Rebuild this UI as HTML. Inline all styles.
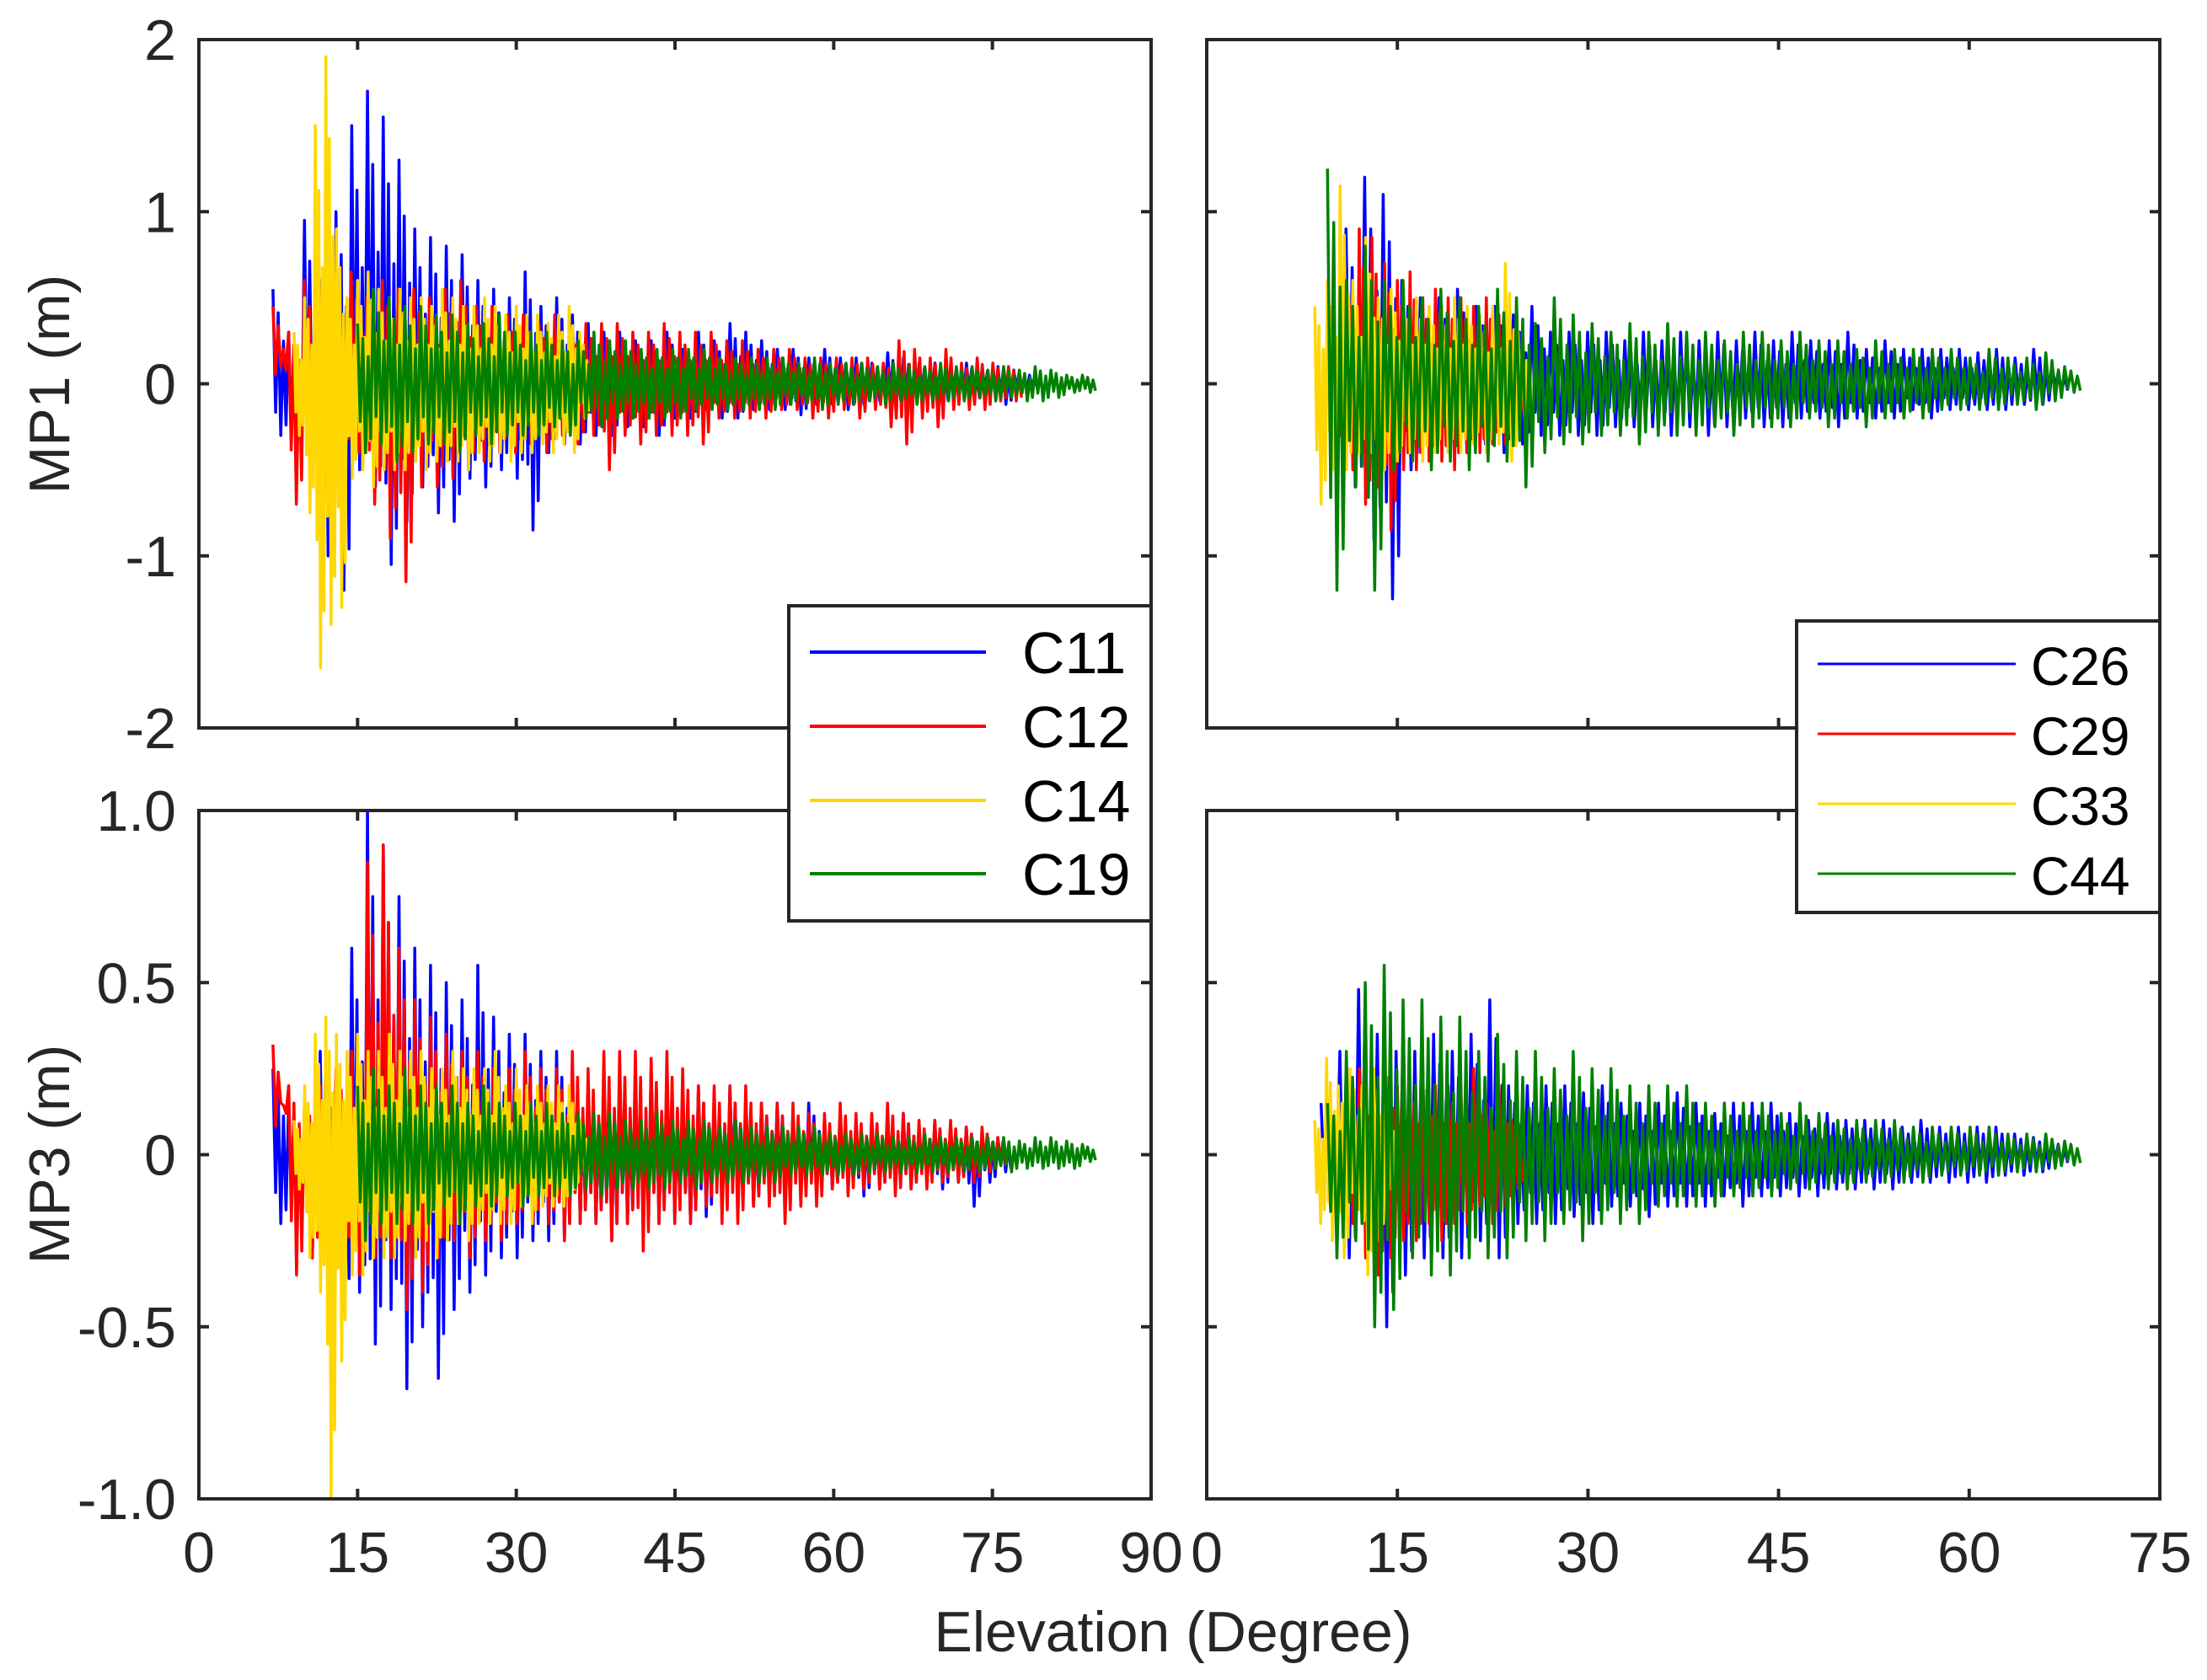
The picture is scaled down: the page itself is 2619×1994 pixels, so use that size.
<!DOCTYPE html>
<html><head><meta charset="utf-8">
<style>
html,body{margin:0;padding:0;background:#fff;}
svg{display:block;font-family:"Liberation Sans",Arial,sans-serif;}
</style></head>
<body>
<svg id="fig" width="2619" height="1994" viewBox="0 0 2619 1994" xmlns="http://www.w3.org/2000/svg">
<rect width="2619" height="1994" fill="#fff"/>
<g id="layer"></g>
</svg>
<script>
// ---------- data (elevation ranges + envelope highs/lows per bin) ----------
const seriesNamesLeft = ["C11","C12","C14","C19"];
const seriesNamesRight = ["C26","C29","C33","C44"];
const seriesColors = ["#0000ff","#ff0000","#ffd700","#008000"];
const xTicksLeft = [0,15,30,45,60,75,90];
const xTickLabelsLeft = ["0","15","30","45","60","75","90"];
const xTicksRight = [0,15,30,45,60,75];
const xTickLabelsRight = ["0","15","30","45","60","75"];
const yTicksMP1 = [-2,-1,0,1,2];
const yTickLabelsMP1 = ["-2","-1","0","1","2"];
const yTicksMP3 = [-1,-0.5,0,0.5,1];
const yTickLabelsMP3 = ["-1.0","-0.5","0","0.5","1.0"];

// MP1 left
const mp1L_C11_range = [7,80];
const mp1L_C11_hi = [0.55,0.3,0.95,0.6,1.0,1.5,1.7,1.55,1.3,0.9,0.85,0.8,0.75,0.6,0.55,0.5,0.65,0.45,0.5,0.4,0.35,0.3,0.3,0.25,0.25,0.3,0.2,0.3,0.25,0.35,0.3,0.25,0.2,0.2,0.15,0.2,0.15,0.15,0.12,0.18,0.15,0.12,0.12,0.1,0.12,0.1,0.1,0.08,0.05];
const mp1L_C11_lo = [-0.3,-0.5,-0.4,-1.0,-1.2,-0.5,-0.6,-1.05,-0.8,-0.6,-0.75,-0.8,-0.55,-0.6,-0.5,-0.55,-0.85,-0.4,-0.35,-0.35,-0.3,-0.3,-0.25,-0.25,-0.3,-0.2,-0.2,-0.15,-0.2,-0.2,-0.15,-0.15,-0.15,-0.18,-0.12,-0.12,-0.15,-0.12,-0.1,-0.12,-0.1,-0.1,-0.12,-0.08,-0.1,-0.08,-0.12,-0.05,-0.03];
const mp1L_C12_range = [7,78];
const mp1L_C12_hi = [0.45,0.3,0.6,0.4,0.3,0.65,0.5,0.6,0.55,0.55,0.5,0.55,0.6,0.45,0.45,0.4,0.4,0.35,0.4,0.3,0.35,0.35,0.35,0.3,0.3,0.35,0.3,0.3,0.3,0.25,0.25,0.2,0.2,0.2,0.15,0.15,0.15,0.15,0.15,0.12,0.25,0.2,0.15,0.2,0.12,0.15,0.12,0.1];
const mp1L_C12_lo = [0.1,-0.7,-0.45,-0.3,-0.4,-0.4,-0.7,-0.9,-1.15,-0.6,-0.6,-0.55,-0.5,-0.45,-0.4,-0.4,-0.35,-0.4,-0.3,-0.35,-0.3,-0.5,-0.3,-0.35,-0.3,-0.3,-0.3,-0.35,-0.2,-0.2,-0.2,-0.2,-0.15,-0.15,-0.2,-0.2,-0.15,-0.2,-0.15,-0.25,-0.35,-0.2,-0.25,-0.15,-0.15,-0.15,-0.1,-0.1];
const mp1L_C14_range = [9,37];
const mp1L_C14_hi = [0.3,0.5,1.5,1.9,0.9,0.5,0.6,0.65,0.55,0.5,0.55,0.5,0.5,0.45,0.55,0.5,0.45,0.45,0.5,0.45,0.4,0.45,0.4,0.4,0.35,0.4,0.45,0.3];
const mp1L_C14_lo = [-0.3,-0.75,-1.65,-1.4,-1.3,-0.55,-0.5,-0.6,-0.5,-0.5,-0.5,-0.45,-0.5,-0.45,-0.45,-0.45,-0.5,-0.4,-0.45,-0.4,-0.45,-0.4,-0.4,-0.35,-0.4,-0.35,-0.4,-0.2];
const mp1L_C19_range = [15,85];
const mp1L_C19_hi = [0.35,0.55,0.5,0.45,0.45,0.4,0.4,0.35,0.35,0.4,0.3,0.3,0.3,0.25,0.25,0.3,0.25,0.25,0.2,0.2,0.2,0.2,0.2,0.15,0.15,0.15,0.15,0.15,0.12,0.15,0.12,0.12,0.12,0.1,0.12,0.1,0.1,0.12,0.1,0.1,0.08,0.1,0.08,0.1,0.08,0.05,0.05];
const mp1L_C19_lo = [-0.4,-0.35,-0.45,-0.4,-0.35,-0.35,-0.4,-0.3,-0.35,-0.3,-0.3,-0.3,-0.25,-0.3,-0.2,-0.25,-0.2,-0.2,-0.2,-0.2,-0.2,-0.15,-0.15,-0.15,-0.15,-0.15,-0.15,-0.12,-0.12,-0.15,-0.12,-0.12,-0.1,-0.12,-0.1,-0.12,-0.1,-0.1,-0.1,-0.08,-0.1,-0.08,-0.1,-0.1,-0.08,-0.05,-0.05];

// MP3 left
const mp3L_C11_range = [7,77];
const mp3L_C11_hi = [0.25,0.15,0.1,0.3,0.15,0.6,1.0,0.9,0.75,0.6,0.55,0.5,0.45,0.55,0.4,0.35,0.35,0.3,0.3,0.25,0.2,0.2,0.2,0.2,0.25,0.2,0.15,0.2,0.15,0.2,0.15,0.15,0.15,0.12,0.15,0.1,0.12,0.1,0.1,0.1,0.12,0.08,0.1,0.08,0.08,0.06,0.05];
const mp3L_C11_lo = [-0.2,-0.2,-0.3,-0.35,-0.45,-0.4,-0.55,-0.45,-0.68,-0.5,-0.65,-0.45,-0.4,-0.35,-0.3,-0.3,-0.25,-0.25,-0.25,-0.2,-0.2,-0.25,-0.2,-0.2,-0.2,-0.18,-0.2,-0.18,-0.15,-0.15,-0.15,-0.12,-0.12,-0.12,-0.12,-0.1,-0.1,-0.12,-0.1,-0.1,-0.1,-0.08,-0.1,-0.08,-0.15,-0.08,-0.05];
const mp3L_C12_range = [7,77];
const mp3L_C12_hi = [0.32,0.2,0.15,0.2,0.25,0.3,0.85,0.9,0.6,0.45,0.4,0.35,0.3,0.3,0.25,0.25,0.3,0.25,0.25,0.3,0.25,0.3,0.3,0.3,0.28,0.3,0.25,0.2,0.2,0.2,0.2,0.15,0.15,0.15,0.12,0.12,0.15,0.12,0.12,0.15,0.12,0.1,0.1,0.1,0.08,0.08,0.05];
const mp3L_C12_lo = [0.15,-0.35,-0.3,-0.2,-0.3,-0.35,-0.3,-0.3,-0.45,-0.4,-0.3,-0.25,-0.3,-0.25,-0.25,-0.2,-0.2,-0.2,-0.25,-0.2,-0.2,-0.25,-0.2,-0.28,-0.2,-0.2,-0.2,-0.15,-0.2,-0.2,-0.15,-0.15,-0.2,-0.15,-0.15,-0.1,-0.12,-0.1,-0.1,-0.12,-0.1,-0.1,-0.08,-0.08,-0.08,-0.05,-0.03];
const mp3L_C14_range = [9,37];
const mp3L_C14_hi = [0.1,0.2,0.35,0.4,0.35,0.3,0.35,0.3,0.3,0.35,0.3,0.3,0.3,0.25,0.25,0.3,0.25,0.25,0.25,0.3,0.2,0.25,0.2,0.2,0.2,0.2,0.2,0.1];
const mp3L_C14_lo = [-0.1,-0.3,-0.4,-1.0,-0.6,-0.35,-0.35,-0.3,-0.3,-0.3,-0.25,-0.3,-0.25,-0.3,-0.25,-0.2,-0.25,-0.2,-0.2,-0.2,-0.2,-0.15,-0.2,-0.15,-0.15,-0.15,-0.1,-0.05];
const mp3L_C19_range = [15,85];
const mp3L_C19_hi = [0.2,0.25,0.2,0.25,0.2,0.2,0.2,0.15,0.2,0.15,0.15,0.15,0.15,0.12,0.12,0.12,0.12,0.1,0.1,0.12,0.1,0.1,0.1,0.08,0.1,0.08,0.08,0.08,0.08,0.08,0.06,0.06,0.06,0.06,0.05,0.05,0.06,0.05,0.05,0.05,0.05,0.05,0.04,0.05,0.05,0.04,0.03];
const mp3L_C19_lo = [-0.25,-0.2,-0.2,-0.2,-0.2,-0.15,-0.2,-0.15,-0.15,-0.12,-0.15,-0.12,-0.12,-0.12,-0.1,-0.12,-0.1,-0.1,-0.1,-0.1,-0.08,-0.1,-0.08,-0.08,-0.08,-0.08,-0.08,-0.06,-0.06,-0.06,-0.06,-0.06,-0.05,-0.05,-0.05,-0.05,-0.05,-0.05,-0.05,-0.05,-0.04,-0.05,-0.04,-0.04,-0.04,-0.04,-0.02];

// MP1 right
const mp1R_C26_range = [9.5,68];
const mp1R_C26_hi = [0.3,0.9,1.2,1.1,0.6,0.5,0.5,0.55,0.45,0.45,0.4,0.45,0.3,0.3,0.3,0.3,0.25,0.3,0.25,0.3,0.25,0.3,0.25,0.3,0.25,0.3,0.25,0.25,0.3,0.2,0.25,0.2,0.2,0.2,0.2,0.18,0.2,0.15,0.2,0.1];
const mp1R_C26_lo = [-0.4,-0.6,-0.9,-1.25,-0.5,-0.45,-0.4,-0.4,-0.35,-0.4,-0.35,-0.3,-0.3,-0.3,-0.3,-0.25,-0.25,-0.25,-0.3,-0.25,-0.3,-0.25,-0.2,-0.25,-0.25,-0.2,-0.2,-0.25,-0.2,-0.2,-0.2,-0.15,-0.2,-0.15,-0.15,-0.15,-0.15,-0.12,-0.12,-0.05];
const mp1R_C29_range = [10,25];
const mp1R_C29_hi = [0.3,0.6,0.9,0.85,0.7,0.6,0.65,0.5,0.55,0.5,0.5,0.45,0.5,0.4,0.3];
const mp1R_C29_lo = [-0.3,-0.5,-0.7,-0.6,-0.85,-0.5,-0.5,-0.45,-0.45,-0.5,-0.4,-0.4,-0.35,-0.35,-0.2];
const mp1R_C33_range = [8.5,25.5];
const mp1R_C33_hi = [0.45,0.6,1.15,0.6,0.85,0.5,0.55,0.5,0.5,0.45,0.45,0.5,0.45,0.4,0.45,0.7,0.3];
const mp1R_C33_lo = [-0.7,-0.5,-0.5,-0.4,-0.4,-0.5,-0.45,-0.4,-0.45,-0.4,-0.4,-0.4,-0.35,-0.4,-0.35,-0.45,-0.2];
const mp1R_C44_range = [9.5,69];
const mp1R_C44_hi = [1.25,0.6,0.8,0.6,0.6,0.5,0.55,0.5,0.45,0.55,0.5,0.35,0.5,0.4,0.35,0.3,0.35,0.3,0.35,0.3,0.3,0.25,0.3,0.3,0.25,0.3,0.25,0.25,0.2,0.25,0.2,0.2,0.2,0.2,0.15,0.2,0.15,0.15,0.18,0.1];
const mp1R_C44_lo = [-1.2,-0.6,-1.2,-0.5,-0.45,-0.5,-0.45,-0.5,-0.45,-0.45,-0.6,-0.4,-0.35,-0.35,-0.3,-0.3,-0.35,-0.3,-0.3,-0.3,-0.25,-0.3,-0.25,-0.25,-0.25,-0.2,-0.25,-0.2,-0.25,-0.2,-0.2,-0.2,-0.15,-0.15,-0.15,-0.15,-0.12,-0.15,-0.1,-0.05];

// MP3 right
const mp3R_C26_range = [9,68];
const mp3R_C26_hi = [0.15,0.3,0.48,0.35,0.3,0.3,0.35,0.3,0.35,0.45,0.2,0.2,0.2,0.2,0.18,0.2,0.15,0.15,0.15,0.18,0.15,0.12,0.15,0.15,0.15,0.12,0.1,0.12,0.1,0.1,0.1,0.08,0.1,0.08,0.08,0.08,0.08,0.06,0.05,0.04];
const mp3R_C26_lo = [-0.15,-0.3,-0.3,-0.5,-0.35,-0.3,-0.3,-0.3,-0.25,-0.3,-0.2,-0.2,-0.2,-0.18,-0.2,-0.15,-0.15,-0.18,-0.15,-0.15,-0.15,-0.12,-0.15,-0.12,-0.12,-0.12,-0.12,-0.1,-0.1,-0.1,-0.1,-0.08,-0.08,-0.08,-0.08,-0.08,-0.06,-0.06,-0.05,-0.03];
const mp3R_C29_range = [10,25];
const mp3R_C29_hi = [0.1,0.2,0.25,0.2,0.3,0.2,0.2,0.25,0.2,0.2,0.2,0.25,0.15,0.2,0.1];
const mp3R_C29_lo = [-0.1,-0.2,-0.3,-0.35,-0.3,-0.25,-0.25,-0.2,-0.25,-0.2,-0.2,-0.15,-0.2,-0.15,-0.1];
const mp3R_C33_range = [8.5,15];
const mp3R_C33_hi = [0.1,0.28,0.2,0.25,0.2,0.25,0.15];
const mp3R_C33_lo = [-0.2,-0.25,-0.3,-0.2,-0.35,-0.25,-0.1];
const mp3R_C44_range = [9.5,69];
const mp3R_C44_hi = [0.15,0.3,0.5,0.55,0.45,0.45,0.4,0.4,0.3,0.35,0.3,0.3,0.25,0.3,0.25,0.25,0.2,0.2,0.2,0.2,0.15,0.15,0.15,0.15,0.12,0.15,0.12,0.1,0.1,0.1,0.1,0.08,0.08,0.08,0.08,0.08,0.06,0.06,0.06,0.04];
const mp3R_C44_lo = [-0.3,-0.25,-0.5,-0.45,-0.3,-0.35,-0.35,-0.3,-0.3,-0.3,-0.25,-0.25,-0.2,-0.25,-0.2,-0.2,-0.2,-0.15,-0.15,-0.15,-0.15,-0.12,-0.12,-0.12,-0.1,-0.1,-0.1,-0.1,-0.08,-0.08,-0.08,-0.08,-0.06,-0.06,-0.06,-0.06,-0.05,-0.05,-0.04,-0.03];

// ---------- rendering ----------
const NS = "http://www.w3.org/2000/svg";
const layer = document.getElementById("layer");
const AX = "#262626";
// within-bin oscillation pattern (fractions of the bin's high / low)
const wiggle = [[0,"hi",1],[0.17,"lo",0.55],[0.33,"hi",0.75],[0.5,"lo",1],[0.67,"hi",0.45],[0.83,"lo",0.8]];
function mk(tag, attrs, parent){
  const e = document.createElementNS(NS, tag);
  for (const k in attrs) e.setAttribute(k, attrs[k]);
  (parent||layer).appendChild(e);
  return e;
}
function scale(d0,d1,r0,r1){ return v => r0 + (v-d0)/(d1-d0)*(r1-r0); }

function drawPanel(cfg){
  const g = mk("g", {});
  
  
  const sx = scale(cfg.xd[0], cfg.xd[1], cfg.x0, cfg.x1);
  const sy = scale(cfg.yd[0], cfg.yd[1], cfg.y1, cfg.y0);
  const clipId = cfg.name + "-clip";
  const cp = mk("clipPath", {id: clipId}, g);
  mk("rect", {x: cfg.x0, y: cfg.y0, width: cfg.x1-cfg.x0, height: cfg.y1-cfg.y0}, cp);
  const dg = mk("g", {"clip-path": "url(#"+clipId+")"}, g);
  cfg.series.forEach((s, si) => {
    const n = s.hi.length;
    const step = (s.range[1]-s.range[0]) / n;
    let pts = [];
    for (let i=0;i<n;i++){
      const xa = s.range[0] + i*step;
      wiggle.forEach(w => {
        const v = (w[1]==="hi" ? s.hi[i] : s.lo[i]) * w[2];
        pts.push(sx(xa+step*w[0]).toFixed(1)+","+sy(v).toFixed(1));
      });
    }
    const p = mk("polyline", {points: pts.join(" "), fill: "none", stroke: seriesColors[si], "stroke-width": 3.5, "stroke-linejoin": "round"}, dg);
    
    
  });
  const box = mk("rect", {x: cfg.x0, y: cfg.y0, width: cfg.x1-cfg.x0, height: cfg.y1-cfg.y0, fill: "none", stroke: AX, "stroke-width": 4}, g);
  
  
  cfg.xt.forEach((t, i) => {
    const x = sx(t);
    mk("line", {x1:x, x2:x, y1:cfg.y1, y2:cfg.y1-12, stroke:AX, "stroke-width":4}, g);
    mk("line", {x1:x, x2:x, y1:cfg.y0, y2:cfg.y0+12, stroke:AX, "stroke-width":4}, g);
    if (cfg.xl){
      const tx = mk("text", {x:x, y:1866, "text-anchor":"middle", "font-size":68, fill:AX}, g);
      tx.textContent = cfg.xl[i];
      
      
    }
  });
  cfg.yt.forEach((t, i) => {
    const y = sy(t);
    mk("line", {x1:cfg.x0, x2:cfg.x0+12, y1:y, y2:y, stroke:AX, "stroke-width":4}, g);
    mk("line", {x1:cfg.x1, x2:cfg.x1-12, y1:y, y2:y, stroke:AX, "stroke-width":4}, g);
    if (cfg.yl){
      const tx = mk("text", {x:209, y:y+24, "text-anchor":"end", "font-size":68, fill:AX}, g);
      tx.textContent = cfg.yl[i];
      
      
    }
  });
}

const L = {x0:236, x1:1366}, R = {x0:1432, x1:2563};
const T = {y0:47, y1:864}, B = {y0:962, y1:1779};
function ser(names, ranges, his, los){ return names.map((n,i)=>({label:n, range:ranges[i], hi:his[i], lo:los[i]})); }

drawPanel({name:"mp1-left-panel", x0:L.x0, x1:L.x1, y0:T.y0, y1:T.y1, xd:[0,90], yd:[-2,2], xt:xTicksLeft, yt:yTicksMP1, yl:yTickLabelsMP1,
  series: ser(seriesNamesLeft,[mp1L_C11_range,mp1L_C12_range,mp1L_C14_range,mp1L_C19_range],[mp1L_C11_hi,mp1L_C12_hi,mp1L_C14_hi,mp1L_C19_hi],[mp1L_C11_lo,mp1L_C12_lo,mp1L_C14_lo,mp1L_C19_lo])});
drawPanel({name:"mp3-left-panel", x0:L.x0, x1:L.x1, y0:B.y0, y1:B.y1, xd:[0,90], yd:[-1,1], xt:xTicksLeft, xl:xTickLabelsLeft, yt:yTicksMP3, yl:yTickLabelsMP3,
  series: ser(seriesNamesLeft,[mp3L_C11_range,mp3L_C12_range,mp3L_C14_range,mp3L_C19_range],[mp3L_C11_hi,mp3L_C12_hi,mp3L_C14_hi,mp3L_C19_hi],[mp3L_C11_lo,mp3L_C12_lo,mp3L_C14_lo,mp3L_C19_lo])});
drawPanel({name:"mp1-right-panel", x0:R.x0, x1:R.x1, y0:T.y0, y1:T.y1, xd:[0,75], yd:[-2,2], xt:xTicksRight, yt:yTicksMP1,
  series: ser(seriesNamesRight,[mp1R_C26_range,mp1R_C29_range,mp1R_C33_range,mp1R_C44_range],[mp1R_C26_hi,mp1R_C29_hi,mp1R_C33_hi,mp1R_C44_hi],[mp1R_C26_lo,mp1R_C29_lo,mp1R_C33_lo,mp1R_C44_lo])});
drawPanel({name:"mp3-right-panel", x0:R.x0, x1:R.x1, y0:B.y0, y1:B.y1, xd:[0,75], yd:[-1,1], xt:xTicksRight, xl:xTickLabelsRight, yt:yTicksMP3,
  series: ser(seriesNamesRight,[mp3R_C26_range,mp3R_C29_range,mp3R_C33_range,mp3R_C44_range],[mp3R_C26_hi,mp3R_C29_hi,mp3R_C33_hi,mp3R_C44_hi],[mp3R_C26_lo,mp3R_C29_lo,mp3R_C33_lo,mp3R_C44_lo])});

function legend(name, bx, by, bw, bh, rows, lx0, lx1, tx, fs, lw){
  const g = mk("g", {});
  
  
  mk("rect", {x:bx, y:by, width:bw, height:bh, fill:"#fff", stroke:AX, "stroke-width":4}, g);
  rows.forEach((r, i) => {
    const e = mk("g", {}, g);
    
    
    mk("line", {x1:lx0, x2:lx1, y1:r.y, y2:r.y, stroke:seriesColors[i], "stroke-width":lw}, e);
    const t = mk("text", {x:tx, y:r.y+25, "font-size":fs, fill:"#000"}, e);
    t.textContent = r.label;
  });
}
legend("legend-left", 936, 719, 430, 374,
  seriesNamesLeft.map((n,i)=>({label:n, y:[774,862,950,1037][i]})), 961, 1170, 1213, 70, 4);
legend("legend-right", 2132, 737, 431, 346,
  seriesNamesRight.map((n,i)=>({label:n, y:[788,871,954,1037][i]})), 2157, 2392, 2410, 64, 3);

const xt = mk("text", {x:1392, y:1960, "text-anchor":"middle", "font-size":68, fill:AX});
xt.textContent = "Elevation (Degree)";


const y1t = mk("text", {x:0, y:0, "text-anchor":"middle", "font-size":68, fill:AX, transform:"translate(82,456) rotate(-90)"});
y1t.textContent = "MP1 (m)";


const y3t = mk("text", {x:0, y:0, "text-anchor":"middle", "font-size":68, fill:AX, transform:"translate(82,1370) rotate(-90)"});
y3t.textContent = "MP3 (m)";


</script>
</body></html>
